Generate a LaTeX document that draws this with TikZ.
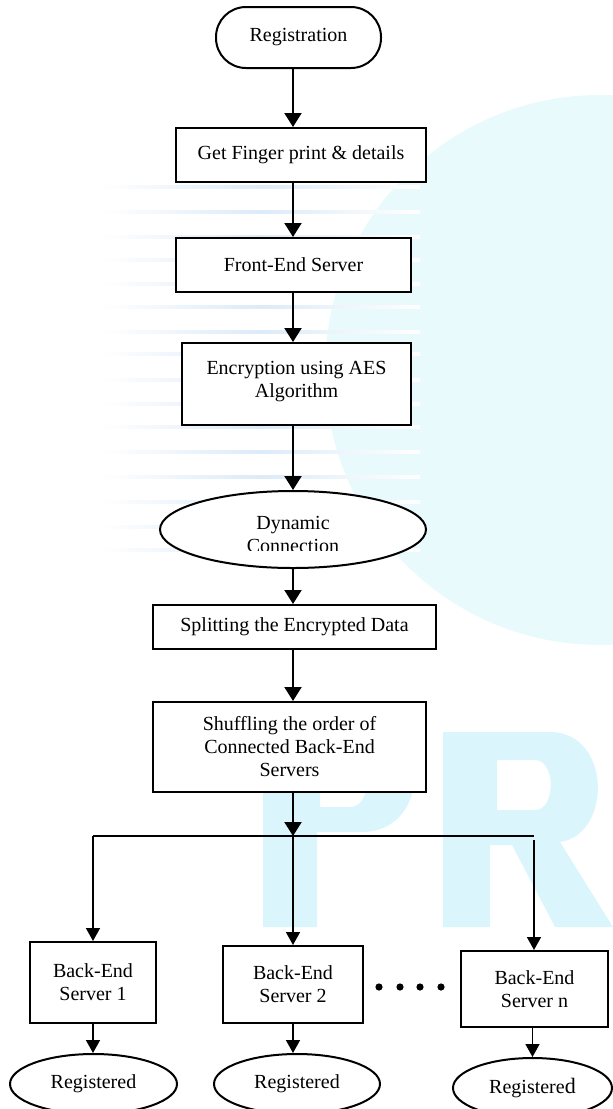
\documentclass[tikz,border=0pt]{standalone}
\usepackage{fontspec}
\setmainfont{Liberation Serif}
\usetikzlibrary{shapes.geometric,arrows.meta}
\definecolor{wmcyan}{HTML}{DAF6FC}
\definecolor{wmglobe}{HTML}{E9FAFD}
\definecolor{wmstreak}{HTML}{DCEBF8}
\tikzset{
  box/.style={draw, line width=1pt, fill=white, inner sep=0pt, align=center,
    font=\fontsize{10}{11.5}\selectfont},
  oval/.style={draw, ellipse, line width=1pt, fill=white, inner sep=0pt, align=center,
    font=\fontsize{10}{11.5}\selectfont},
  txt/.style={inner sep=0pt, align=center, font=\fontsize{10}{11.5}\selectfont},
  flow/.style={line width=1pt, -{Triangle[width=8.5pt,length=7pt]}},
  branch/.style={line width=0.75pt, -{Triangle[width=7pt,length=6.5pt]}},
  bar/.style={line width=0.75pt},
}
\begin{document}
\begin{tikzpicture}[x=0.5pt,y=-0.5pt]
\useasboundingbox (0,0) rectangle (613,1109);
\clip (0,0) rectangle (613,1109);
% ---- faint watermark ----
\fill[wmglobe] (600,370) circle (275);
\foreach \yy in {185,210,235,258,282,305,330,352,378,402,425,450,475,500,525,548}
  \shade[left color=white, right color=white, middle color=wmstreak] (100,\yy) rectangle (420,\yy+3);
\fill[wmcyan, even odd rule]
  (263,927) -- (263,720) -- (362,720) .. controls (432,720) and (432,832) .. (362,832)
  -- (317,832) -- (317,927) -- cycle
  (320,760) -- (350,760) .. controls (372,760) and (372,807) .. (350,807) -- (320,807) -- cycle;
\fill[wmcyan, even odd rule]
  (443,927) -- (443,732) -- (550,732) .. controls (612,732) and (612,835) .. (560,842)
  -- (613,927) -- (555,927) -- (512,845) -- (490,845) -- (490,927) -- cycle
  (497,760) -- (535,760) .. controls (556,760) and (556,810) .. (535,810) -- (497,810) -- cycle;
% ---- nodes ----
\node[box, rounded corners=15pt, minimum width=82.5pt, minimum height=30.5pt] (reg) at (298.5,37.5) {Registration};
\node[box, minimum width=125pt, minimum height=27pt] (get) at (301,155) {Get Finger print \& details};
\node[box, minimum width=117.5pt, minimum height=27pt] (front) at (293.5,265) {Front-End Server};
\node[box, minimum width=114.5pt, minimum height=41pt,
  label={[txt, anchor=north, yshift=-9.5pt]north:Encryption using AES\\Algorithm}] (enc) at (296.5,384) {};
\node[oval, minimum width=133pt, minimum height=38.5pt] (dyn) at (293,529.5) {};
\begin{scope}
  \clip (150,495) rectangle (440,550);
  \node[txt, anchor=north] (dyntext) at (293,515.5) {Dynamic\\Connection};
\end{scope}
\node[box, minimum width=141.5pt, minimum height=22pt] (split) at (294.5,627) {Splitting the Encrypted Data};
\node[box, minimum width=136.5pt, minimum height=45pt] (shuf) at (289.5,747) {Shuffling the order of\\Connected Back-End\\Servers};
\coordinate (jc) at (293,836);
\coordinate (jl) at (93,836);
\coordinate (jr) at (534,836);
\coordinate (jr2) at (534,840);
\node[box, minimum width=63pt, minimum height=40.5pt] (b1) at (93,982.5) {Back-End\\Server 1};
\node[box, minimum width=70pt, minimum height=38.5pt] (b2) at (293,984.5) {Back-End\\Server 2};
\node[box, minimum width=73.5pt, minimum height=38pt] (bn) at (534.5,989) {Back-End\\Server n};
\node[oval, minimum width=83.5pt, minimum height=30pt] (r1) at (93.5,1084) {Registered};
\node[oval, minimum width=83pt, minimum height=30pt] (r2) at (297,1084) {Registered};
\node[oval, minimum width=79.5pt, minimum height=30pt] (r3) at (532.5,1088) {Registere{\fontsize{11}{12}\selectfont d}};
\foreach \xx [count=\i] in {379,400,420,441}
  \fill (\xx,987) circle (1.8pt) coordinate (dot\i);
\coordinate (xr3) at (532.5,0);
% ---- connectors ----
\draw[flow] (reg.south -| jc) -- (get.north -| jc);
\draw[flow] (get.south -| jc) -- (front.north -| jc);
\draw[flow] (front.south -| jc) -- (enc.north -| jc);
\draw[flow] (enc.south -| jc) -- (dyn.north -| jc);
\draw[flow] (dyn.south -| jc) -- (split.north -| jc);
\draw[flow] (split.south -| jc) -- (shuf.north -| jc);
\draw[flow] (shuf.south -| jc) -- (jc);
\draw[bar] (jl) -- (jr);
\draw[branch] (jc) -- (b2.north -| jc);
\draw[branch] (jl) -- (b1.north -| jl);
\draw[branch] (jr2) -- (bn.north -| jr2);
\draw[branch] (b1.south -| jl) -- (r1.north -| jl);
\draw[branch] (b2.south -| jc) -- (r2.north -| jc);
\draw[branch] (bn.south -| xr3) -- (r3.north -| xr3);
\end{tikzpicture}
\end{document}
